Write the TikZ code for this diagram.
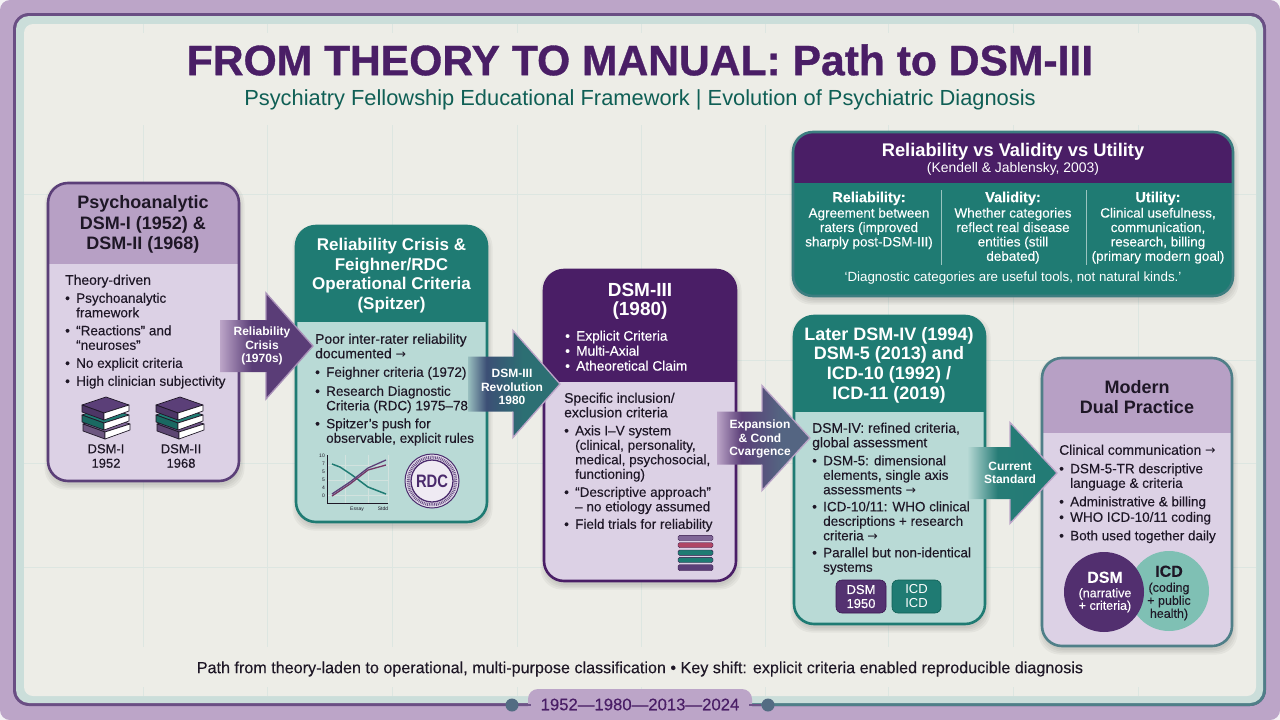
\documentclass[tikz,border=0pt]{standalone}
\usepackage{fontspec}
\usetikzlibrary{calc}
\setmainfont{Liberation Sans}
\newfontfamily\bodyf[FakeBold=0.15]{Liberation Sans}
\newfontfamily\medf[FakeBold=0.35]{Liberation Sans}
\newfontfamily\titlef[FakeBold=0.8]{Liberation Sans Bold}
\newfontfamily\arrowf{DejaVu Sans}
\definecolor{pageedge}{HTML}{F4F2F5}
\definecolor{mauve}{HTML}{BCA5C8}
\definecolor{plum}{HTML}{4A1E66}
\definecolor{plumedge}{HTML}{5B3F78}
\definecolor{teal}{HTML}{1F7B73}
\definecolor{tealdeep}{HTML}{0F5F55}
\definecolor{slateedge}{HTML}{4F7F88}
\definecolor{paper}{HTML}{EDEDE7}
\definecolor{band}{HTML}{CBDEDA}
\definecolor{gridline}{HTML}{DDE6E1}
\definecolor{lilacbody}{HTML}{DCD1E5}
\definecolor{lilachead}{HTML}{B7A0C5}
\definecolor{tealbody}{HTML}{B9DAD6}
\definecolor{ink}{HTML}{1E1726}
\definecolor{rdcink}{HTML}{4A2A6C}
\definecolor{venngreen}{HTML}{7FC0B4}
\definecolor{flownavy}{HTML}{3C4F75}
\definecolor{flowteal}{HTML}{2C6F73}
\colorlet{flowAline}{mauve!80!plumedge}
\colorlet{flowBline}{mauve}
\colorlet{flowCline}{mauve}
\colorlet{flowDline}{mauve}
\pgfdeclarehorizontalshading{flowA}{100bp}{color(0bp)=(mauve); color(25bp)=(mauve); color(42bp)=(plumedge!95!plum); color(100bp)=(plumedge!95!plum)}
\pgfdeclarehorizontalshading{flowB}{100bp}{color(0bp)=(tealbody); color(25bp)=(tealbody!70!slateedge); color(35bp)=(flownavy); color(55bp)=(flowteal); color(100bp)=(flowteal)}
\pgfdeclarehorizontalshading{flowC}{100bp}{color(0bp)=(mauve); color(25bp)=(mauve); color(38bp)=(plumedge); color(60bp)=(slateedge!60!plumedge); color(100bp)=(slateedge!60!plumedge)}
\pgfdeclarehorizontalshading{flowD}{100bp}{color(0bp)=(tealbody); color(25bp)=(tealbody); color(42bp)=(teal!85!slateedge); color(100bp)=(teal)}
\tikzset{
  cardshape/.style={rectangle,rounded corners=20pt,inner sep=0pt,outer sep=0pt},
  heading/.style={align=center,inner sep=0pt,font=\fontsize{18}{19.7}\selectfont\bfseries},
  bodytext/.style={anchor=north west,align=left,inner sep=0pt,text=ink,font=\fontsize{13.5}{14.5}\selectfont\bodyf},
  flowlabel/.style={align=center,inner sep=0pt,text=white,font=\fontsize{12}{13.4}\selectfont\bfseries},
  grid rule/.style={gridline,line width=1pt},
  book cover/.style={draw=ink,line width=.7pt,line join=round},
  panelcol/.style={anchor=north,align=center,inner sep=0pt,text=white,font=\fontsize{13.5}{14.4}\selectfont\bodyf},
}
% bullet and continuation indents for the card lists
\newcommand\bul{\makebox[11pt][l]{•}}
\newcommand\cnt{\hspace*{11pt}}
\newcommand\leadin[1]{{\fontsize{13.9}{14.5}\selectfont\medf #1}}
\newcommand\arr{{\arrowf\fontsize{12.5}{14}\selectfont →}}
\newcommand\colhead[1]{{\fontsize{14.5}{16}\selectfont\bfseries #1}}
% card: name, x1, y1, x2, y2, header bottom, border, header fill, body fill
\newcommand\cardbox[9]{%
  \foreach \s in {0,1.5,3,4.5}{\fill[black,opacity=.04,rounded corners=21pt] (#2-\s+1,#3-\s+4) rectangle (#4+\s+1,#5+\s+4);}
  \node[cardshape,fill=#9,minimum width={(#4-#2)*1pt},minimum height={(#5-#3)*1pt}] (#1) at ({(#2+#4)/2},{(#3+#5)/2}) {};
  \begin{scope}
    \clip[rounded corners=20pt] (#2,#3) rectangle (#4,#5);
    \fill[#8] (#2,#3) rectangle (#4,#6);
  \end{scope}
  \draw[#7,line width=2.6pt,rounded corners=20pt] (#1.north west) rectangle (#1.south east);
}
% block arrow between two cards: from, to, level, tail shift, tip shift, shaft half, head half, head length, shading
\newcommand\blockarrow[9]{%
  \coordinate (lvl) at (0,#3);
  \coordinate (#1-tail) at ($(#1.east |- lvl)+(#4,0)$);
  \coordinate (#1-tip) at ($(#2.west |- lvl)+(#5,0)$);
  \path[shade,shading=#9] ($(#1-tail)+(0,-#6)$) -- ($(#1-tip)+(-#8,-#6)$) -- ($(#1-tip)+(-#8,-#7)$) -- (#1-tip) -- ($(#1-tip)+(-#8,#7)$) -- ($(#1-tip)+(-#8,#6)$) -- ($(#1-tail)+(0,#6)$) -- cycle;
  \draw[#9line,line width=1.3pt,line join=miter] ($(#1-tip)+(-#8,-#6)$) -- ($(#1-tip)+(-#8,-#7)$) -- (#1-tip) -- ($(#1-tip)+(-#8,#7)$) -- ($(#1-tip)+(-#8,#6)$);
}
% stack of three books at a given top-left corner
\newcommand\onebook[3]{%
  \fill[book cover,fill=#3] (#1,#2+8) -- (#1+24,#2) -- (#1+47,#2+8) -- (#1+22,#2+16) -- cycle;
  \fill[book cover,fill=#3!85!black] (#1,#2+8) -- (#1+22,#2+16) -- (#1+22,#2+23) -- (#1,#2+15) -- cycle;
  \fill[book cover,fill=white] (#1+22,#2+16) -- (#1+47,#2+8) -- (#1+47,#2+14) -- (#1+22,#2+23) -- cycle;
}
\newcommand\bookstack[5]{%
  \onebook{#1+1}{#2+19}{#5}
  \onebook{#1}{#2+10}{#4}
  \onebook{#1}{#2}{#3}
}
\begin{document}
\begin{tikzpicture}[x=1pt,y=-1pt]
\useasboundingbox (0,0) rectangle (1280,720);
% page and frame
\fill[pageedge] (0,0) rectangle (1280,720);
\fill[mauve,rounded corners=10pt] (0,0) rectangle (1280,720);
\fill[plumedge!85!mauve,rounded corners=16pt] (13,13) rectangle (1266,706);
\begin{scope}
  \clip (640,0) rectangle (1280,720);
  \path[top color=plumedge!85!mauve,bottom color=slateedge,rounded corners=16pt] (13,13) rectangle (1266,706);
\end{scope}
\fill[band,rounded corners=13pt] (16,16) rectangle (1263,703);
\fill[paper,rounded corners=9pt] (24,24) rectangle (1256,696);
% background grid
\foreach \gx in {143,267,392,517,641,765,888,1013,1138}{
  \draw[grid rule] (\gx,24) -- (\gx,33);
  \draw[grid rule] (\gx,125) -- (\gx,647);
  \draw[grid rule] (\gx,687) -- (\gx,696);
}
\foreach \gy in {194,463,567}{\draw[grid rule] (24,\gy) -- (1256,\gy);}
\draw[grid rule] (540,360) -- (1256,360);
% title block
\node[inner sep=0pt,text=plum,font=\fontsize{42.6}{46}\selectfont\titlef] (title) at (640,60) {FROM THEORY TO MANUAL: Path to DSM-III};
\node[inner sep=0pt,text=tealdeep,font=\fontsize{21.85}{24}\selectfont] (subtitle) at (640,100) {Psychiatry Fellowship Educational Framework | Evolution of Psychiatric Diagnosis};
% cards
\cardbox{c1}{48}{183}{239}{481}{264}{plumedge}{lilachead}{lilacbody}
\cardbox{c2}{296}{226}{487}{522}{322}{teal}{teal}{tealbody}
\cardbox{c3}{544}{270}{736}{581}{382}{plum}{plum}{lilacbody}
\cardbox{c4}{794}{316}{985}{624}{412}{teal}{teal}{tealbody}
\cardbox{c5}{1042}{358}{1232}{646}{433}{slateedge}{lilachead}{lilacbody}
\cardbox{c0}{793}{132}{1233}{296}{183}{slateedge!60!teal}{plum}{teal}
% card 1
\node[heading,text=ink,font=\fontsize{18}{20.5}\selectfont\bfseries] (h1) at (143,224.5) {Psychoanalytic\\DSM-I (1952) \&\\DSM-II (1968)};
\node[bodytext] (b1) at (65,274.5) {\leadin{Theory-driven}\\[3.5pt]
\bul Psychoanalytic\\\cnt framework\\[3.5pt]
\bul “Reactions” and\\\cnt “neuroses”\\[3.5pt]
\bul No explicit criteria\\[3.5pt]
\bul High clinician subjectivity};
\bookstack{82}{397}{plumedge}{teal}{plumedge!60!lilachead}
\bookstack{156}{397}{plumedge}{teal}{plumedge!80!lilachead}
\node[align=center,inner sep=0pt,text=ink,font=\fontsize{13}{14.5}\selectfont\medf] (s1) at (106,456) {DSM-I\\1952};
\node[align=center,inner sep=0pt,text=ink,font=\fontsize{13}{14.5}\selectfont\medf] (s2) at (181,456) {DSM-II\\1968};
% card 2
\node[heading,text=white,font=\fontsize{17}{19.7}\selectfont\bfseries] (h2) at (391.5,275.5) {Reliability Crisis \&\\Feighner/RDC\\Operational Criteria\\(Spitzer)};
\node[bodytext] (b2) at (315,333.5) {\leadin{Poor inter-rater reliability}\\\leadin{documented \arr}\\[4pt]
\bul Feighner criteria (1972)\\[4.5pt]
\bul Research Diagnostic\\\cnt Criteria (RDC) 1975–78\\[3.5pt]
\bul Spitzer’s push for\\\cnt observable, explicit rules};
% small trend chart
\foreach \cy in {465,480,495}{\draw[gridline!70!tealbody,line width=.4pt] (327,\cy) -- (388,\cy);}
\foreach \cx in {345,368,388}{\draw[gridline!70!tealbody,line width=.4pt] (\cx,455) -- (\cx,503);}
\draw[ink,line width=.7pt] (327,455) -- (327,503) -- (388,503);
\draw[teal,line width=1.5pt] (332,464) -- (340,467) -- (352,475) -- (368,487) -- (386,494);
\draw[plumedge!85!red,line width=1.3pt] (332,496) -- (350,484) -- (368,470) -- (386,465);
\draw[plumedge,line width=1.3pt] (332,494) -- (350,482) -- (368,468) -- (386,460);
\foreach \ty/\tl in {456/10,464/7,472/5,480/5,488/4,496/0}{\node[inner sep=0pt,text=ink,font=\fontsize{5}{5}\selectfont,anchor=east] (tick\ty) at (325,\ty) {\tl};}
\node[inner sep=0pt,text=ink,font=\fontsize{5}{5}\selectfont] (xa) at (357,509) {Essay};
\node[inner sep=0pt,text=ink,font=\fontsize{5}{5}\selectfont] (xb) at (383,509) {Stdd};
% RDC seal
\draw[rdcink,fill=lilacbody!70!white,line width=1pt] (432,481) circle (27);
\draw[rdcink!80,line width=3pt,dash pattern=on .9pt off .9pt] (432,481) circle (23.8);
\node[circle,draw=rdcink,line width=1.3pt,fill=lilacbody!45!white,inner sep=0pt,minimum size=42pt,text=rdcink,font=\fontsize{18}{18}\selectfont\bfseries] (seal) at (432,481) {\scalebox{.82}[1]{RDC}};
% card 3
\node[heading,text=white,font=\fontsize{19}{19.5}\selectfont\bfseries] (h3) at (640,301.5) {DSM-III\\(1980)};
\node[bodytext,text=white,font=\fontsize{13.7}{15}\selectfont\medf] (t3) at (565,330.5) {\bul Explicit Criteria\\\bul Multi-Axial\\\bul Atheoretical Claim};
\node[bodytext] (b3) at (564,392.5) {\leadin{Specific inclusion/}\\\leadin{exclusion criteria}\\[3.5pt]
\bul Axis I–V system\\\cnt (clinical, personality,\\\cnt medical, psychosocial,\\\cnt functioning)\\[3.5pt]
\bul “Descriptive approach”\\\cnt – no etiology assumed\\[3pt]
\bul Field trials for reliability};
\foreach \ya/\yb/\bc in {535.3/540.7/plumedge!60!lilachead,542.7/547.7/plumedge!50!red!70!lilachead,550/555.3/teal,557.3/562.7/teal,564.7/570.7/plumedge}{
  \fill[\bc,rounded corners=1.5pt] (678,\ya) rectangle (713,\yb);
  \draw[plum!70!black,line width=.4pt,rounded corners=1.5pt] (678,\ya) rectangle (713,\yb);
}
% card 4
\node[heading,text=white] (h4) at (889,365) {Later DSM-IV (1994)\\DSM-5 (2013) and\\ICD-10 (1992) /\\ICD-11 (2019)};
\node[bodytext] (b4) at (812,422.5) {\leadin{DSM-IV: refined criteria,}\\\leadin{global assessment}\\[3.5pt]
\bul DSM-5: dimensional\\\cnt elements, single axis\\\cnt assessments \arr\\[2.5pt]
\bul ICD-10/11: WHO clinical\\\cnt descriptions + research\\\cnt criteria \arr\\[2.5pt]
\bul Parallel but non-identical\\\cnt systems};
\node[rectangle,rounded corners=6pt,fill=plumedge!60!plum,draw=plum!80!black,line width=.6pt,minimum width=50pt,minimum height=33pt,inner sep=0pt,align=center,text=white,font=\fontsize{13}{14}\selectfont\medf] (dsmtag) at (861,596.5) {DSM\\1950};
\node[rectangle,rounded corners=6pt,fill=teal,draw=tealdeep,line width=.6pt,minimum width=49pt,minimum height=33pt,inner sep=0pt,align=center,text=white,font=\fontsize{13}{14}\selectfont] (icdtag) at (916.5,596.5) {ICD\\ICD};
% card 5
\node[heading,text=ink] (h5) at (1137,397) {Modern\\Dual Practice};
\node[bodytext] (b5) at (1059,444.5) {\leadin{Clinical communication \arr}\\[4pt]
\bul DSM-5-TR descriptive\\\cnt language \& criteria\\[4pt]
\bul Administrative \& billing\\[1pt]
\bul WHO ICD-10/11 coding\\[4pt]
\bul Both used together daily};
\node[circle,fill=venngreen,inner sep=0pt,minimum size=80pt] (icdc) at (1169,591) {};
\node[circle,fill=plumedge!50!plum,inner sep=0pt,minimum size=80pt] (dsmc) at (1104,592) {};
\node[align=center,inner sep=0pt,text=white,font=\fontsize{12.5}{12.5}\selectfont\bodyf] (dsmt) at (1105,592) {{\fontsize{16}{16}\selectfont\bfseries DSM}\\[2pt](narrative\\+ criteria)};
\node[align=center,inner sep=0pt,text=ink,font=\fontsize{12.5}{13}\selectfont\bodyf] (icdt) at (1169,593) {{\fontsize{16}{16}\selectfont\bfseries ICD}\\[2pt](coding\\+ public\\health)};
% reliability / validity / utility panel
\node[inner sep=0pt,text=white,font=\fontsize{18.3}{20}\selectfont\bfseries] (pt) at (1013,151.5) {Reliability vs Validity vs Utility};
\node[inner sep=0pt,text=white,font=\fontsize{13.9}{15}\selectfont] (ps) at (1013,169) {(Kendell \& Jablensky, 2003)};
\draw[white!55!teal,line width=.8pt] (941,190) -- (941,265);
\draw[white!55!teal,line width=.8pt] (1086,190) -- (1086,265);
\node[panelcol] (p1) at (869,191.5) {\colhead{Reliability:}\\[1pt]Agreement between\\raters (improved\\sharply post-DSM-III)};
\node[panelcol] (p2) at (1013,191.5) {\colhead{Validity:}\\[1pt]Whether categories\\reflect real disease\\entities (still\\debated)};
\node[panelcol] (p3) at (1158,191.5) {\colhead{Utility:}\\[1pt]Clinical usefulness,\\communication,\\research, billing\\(primary modern goal)};
\node[inner sep=0pt,text=white,font=\fontsize{13.35}{15}\selectfont] (pq) at (1013,278) {‘Diagnostic categories are useful tools, not natural kinds.’};
% flow arrows
\blockarrow{c1}{c2}{346}{-19}{17}{26}{53}{47}{flowA}
\blockarrow{c2}{c3}{384}{-19}{16}{27.5}{53.5}{47}{flowB}
\blockarrow{c3}{c4}{438}{-19}{16}{26.5}{52.5}{48}{flowC}
\blockarrow{c4}{c5}{473}{-18}{15}{26}{50.5}{47}{flowD}
\node[flowlabel] (l1) at (262,346) {Reliability\\Crisis\\(1970s)};
\node[flowlabel] (l2) at (512,387) {DSM-III\\Revolution\\1980};
\node[flowlabel] (l3) at (760,439) {Expansion\\\& Cond\\Cvargence};
\node[flowlabel] (l4) at (1010,473) {Current\\Standard};
% closing line
\node[inner sep=0pt,text=ink,font=\fontsize{16.14}{18}\selectfont\bodyf] (foot) at (640,669) {Path from theory-laden to operational, multi-purpose classification • Key shift: explicit criteria enabled reproducible diagnosis};
% timeline strip
\node[circle,fill=slateedge!70!plumedge,inner sep=0pt,minimum size=13pt] (dl) at (512,705) {};
\node[circle,fill=slateedge!70!plumedge,inner sep=0pt,minimum size=13pt] (dr) at (768,705) {};
\fill[mauve,rounded corners=10pt] (528,689) rectangle (752,730);
\node[inner sep=0pt,text=plum,font=\fontsize{16.7}{20}\selectfont\medf] (years) at (640,704.5) {1952—1980—2013—2024};
\coordinate (pillL) at (531,705);
\coordinate (pillR) at (749,705);
\draw[plumedge!80!mauve,line width=2pt] (dl) -- (pillL);
\draw[plumedge!80!mauve,line width=2pt] (dr) -- (pillR);
\end{tikzpicture}
\end{document}
